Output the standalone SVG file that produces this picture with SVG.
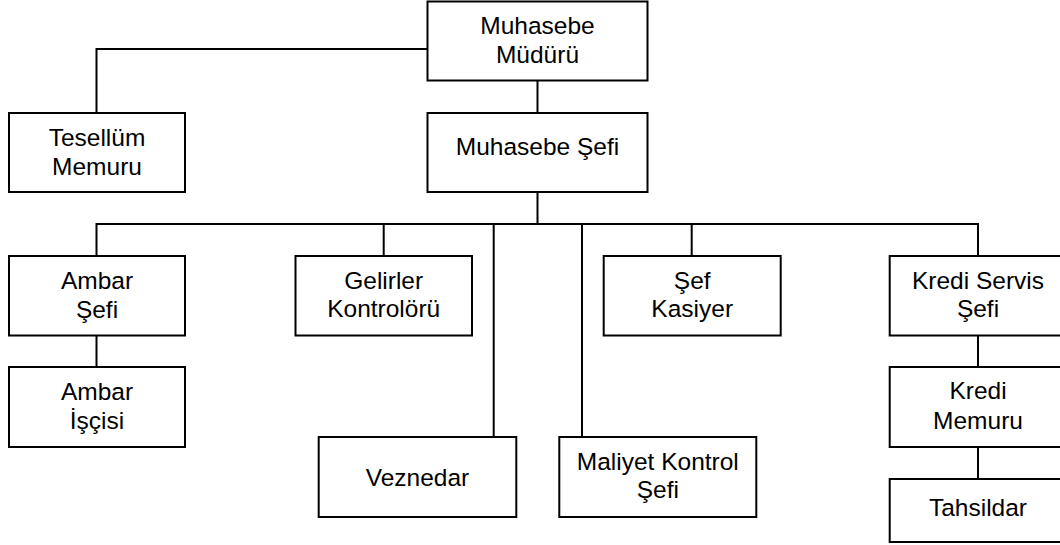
<svg xmlns="http://www.w3.org/2000/svg" width="1060" height="545" viewBox="0 0 1060 545">
  <style>
    .box { fill: #ffffff; stroke: #000000; stroke-width: 2; }
    .wire { fill: none; stroke: #000000; stroke-width: 2; }
    text { font-family: "Liberation Sans", Arial, sans-serif; font-size: 24.5px; fill: #000000; text-anchor: middle; }
  </style>
  <rect width="1060" height="545" fill="#ffffff"/>

  <!-- reporting lines -->
  <g id="connectors">
    <path class="wire" d="M427.5 49 H96.5 V113"/>
    <path class="wire" d="M537.5 80.5 V113"/>
    <path class="wire" d="M537.5 192 V224"/>
    <path class="wire" d="M96.5 256 V224 H978 V256"/>
    <path class="wire" d="M383.7 224 V256"/>
    <path class="wire" d="M493.7 224 V437"/>
    <path class="wire" d="M582 224 V437"/>
    <path class="wire" d="M691.7 224 V256"/>
    <path class="wire" d="M96.5 335.5 V367"/>
    <path class="wire" d="M978 335.5 V367"/>
    <path class="wire" d="M978 447 V479"/>
  </g>

  <g id="muhasebe-muduru">
    <rect class="box" x="427.5" y="1.5" width="220" height="79"/>
    <text x="537.5" y="34">Muhasebe</text>
    <text x="537.5" y="62.7">Müdürü</text>
  </g>

  <g id="muhasebe-sefi">
    <rect class="box" x="427.5" y="113" width="220" height="79"/>
    <text x="537.5" y="155.3">Muhasebe Şefi</text>
  </g>

  <g id="tesellum-memuru">
    <rect class="box" x="9" y="113" width="176" height="79"/>
    <text x="97" y="146">Tesellüm</text>
    <text x="97" y="174.5">Memuru</text>
  </g>

  <g id="ambar-sefi">
    <rect class="box" x="9" y="256" width="176" height="79.5"/>
    <text x="97" y="289.3">Ambar</text>
    <text x="97" y="318">Şefi</text>
  </g>

  <g id="ambar-iscisi">
    <rect class="box" x="9" y="367" width="176" height="80"/>
    <text x="97" y="400">Ambar</text>
    <text x="97" y="428.7">İşçisi</text>
  </g>

  <g id="gelirler-kontroloru">
    <rect class="box" x="295.5" y="256" width="176.5" height="79.5"/>
    <text x="383.7" y="288.7">Gelirler</text>
    <text x="383.7" y="317.3">Kontrolörü</text>
  </g>

  <g id="veznedar">
    <rect class="box" x="318.7" y="437" width="197.6" height="80"/>
    <text x="417.5" y="486">Veznedar</text>
  </g>

  <g id="maliyet-kontrol-sefi">
    <rect class="box" x="559.3" y="437" width="197" height="80"/>
    <text x="657.8" y="470.3">Maliyet Kontrol</text>
    <text x="657.8" y="498">Şefi</text>
  </g>

  <g id="sef-kasiyer">
    <rect class="box" x="603.7" y="256" width="177" height="79.5"/>
    <text x="692.2" y="288.7">Şef</text>
    <text x="692.2" y="317.3">Kasiyer</text>
  </g>

  <g id="kredi-servis-sefi">
    <rect class="box" x="889.7" y="256" width="176" height="79.5"/>
    <text x="978" y="288.7">Kredi Servis</text>
    <text x="978" y="317.3">Şefi</text>
  </g>

  <g id="kredi-memuru">
    <rect class="box" x="889.7" y="367" width="176" height="80"/>
    <text x="978" y="399.3">Kredi</text>
    <text x="978" y="428.7">Memuru</text>
  </g>

  <g id="tahsildar">
    <rect class="box" x="889.7" y="479" width="176" height="63"/>
    <text x="978" y="516">Tahsildar</text>
  </g>
</svg>
